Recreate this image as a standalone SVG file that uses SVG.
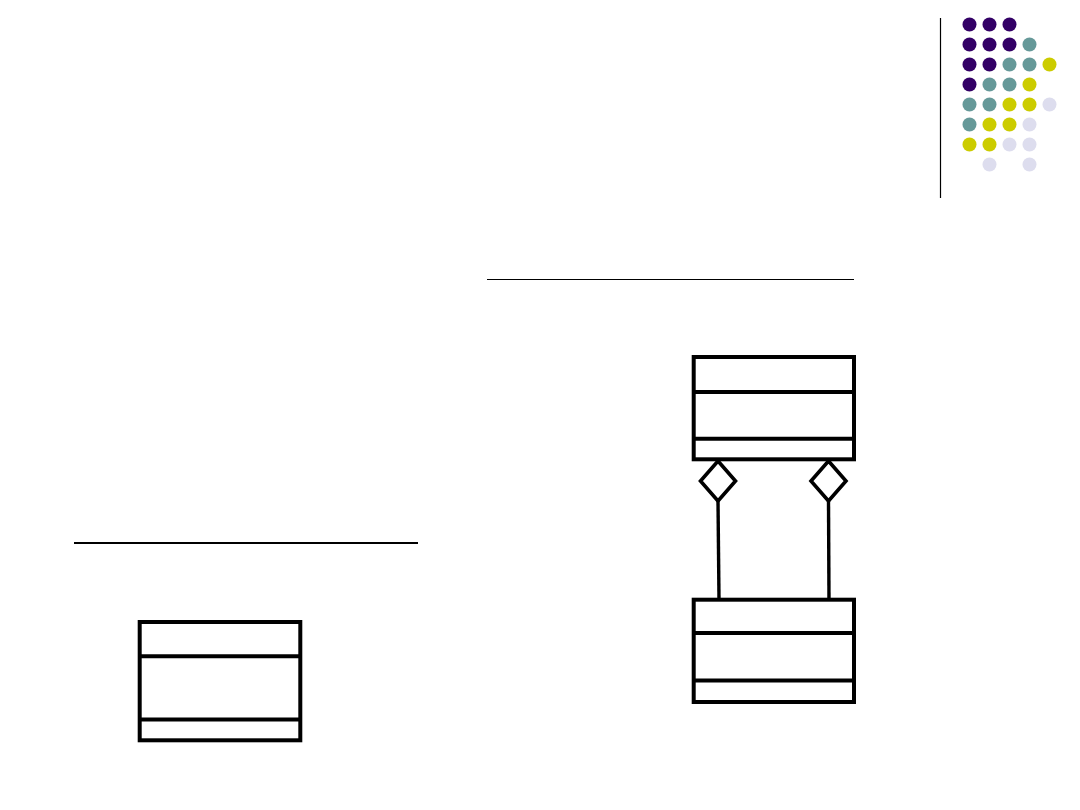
<svg xmlns="http://www.w3.org/2000/svg" width="1080" height="810" viewBox="0 0 1080 810">
<style>
.box{fill:#fff;stroke:#000;stroke-width:4}
.div{stroke:#000;stroke-width:4}
.conn{stroke:#000;stroke-width:3.4;fill:none}
.dia{fill:#fff;stroke:#000;stroke-width:3.6;stroke-linejoin:miter}
.p{fill:#330066}.t{fill:#669999}.y{fill:#CCCC00}.l{fill:#DDDDEE}
</style>
<rect width="1080" height="810" fill="#fff"/>
<g id="decoration">
<line x1="940.5" y1="18" x2="940.5" y2="198" stroke="#000" stroke-width="1.2"/>
<g id="dots">
<circle class="p" cx="969.5" cy="24.5" r="7"/><circle class="p" cx="989.5" cy="24.5" r="7"/><circle class="p" cx="1009.5" cy="24.5" r="7"/>
<circle class="p" cx="969.5" cy="44.5" r="7"/><circle class="p" cx="989.5" cy="44.5" r="7"/><circle class="p" cx="1009.5" cy="44.5" r="7"/><circle class="t" cx="1029.5" cy="44.5" r="7"/>
<circle class="p" cx="969.5" cy="64.5" r="7"/><circle class="p" cx="989.5" cy="64.5" r="7"/><circle class="t" cx="1009.5" cy="64.5" r="7"/><circle class="t" cx="1029.5" cy="64.5" r="7"/><circle class="y" cx="1049.5" cy="64.5" r="7"/>
<circle class="p" cx="969.5" cy="84.5" r="7"/><circle class="t" cx="989.5" cy="84.5" r="7"/><circle class="t" cx="1009.5" cy="84.5" r="7"/><circle class="y" cx="1029.5" cy="84.5" r="7"/>
<circle class="t" cx="969.5" cy="104.5" r="7"/><circle class="t" cx="989.5" cy="104.5" r="7"/><circle class="y" cx="1009.5" cy="104.5" r="7"/><circle class="y" cx="1029.5" cy="104.5" r="7"/><circle class="l" cx="1049.5" cy="104.5" r="7"/>
<circle class="t" cx="969.5" cy="124.5" r="7"/><circle class="y" cx="989.5" cy="124.5" r="7"/><circle class="y" cx="1009.5" cy="124.5" r="7"/><circle class="l" cx="1029.5" cy="124.5" r="7"/>
<circle class="y" cx="969.5" cy="144.5" r="7"/><circle class="y" cx="989.5" cy="144.5" r="7"/><circle class="l" cx="1009.5" cy="144.5" r="7"/><circle class="l" cx="1029.5" cy="144.5" r="7"/>
<circle class="l" cx="989.5" cy="164.5" r="7"/><circle class="l" cx="1029.5" cy="164.5" r="7"/>
</g>
<line x1="487" y1="279.5" x2="854" y2="279.5" stroke="#000" stroke-width="1.2"/>
<line x1="74" y1="543" x2="418" y2="543" stroke="#000" stroke-width="2"/>
</g>
<g id="connectors">
<line class="conn" x1="718" y1="501" x2="719" y2="599"/>
<line class="conn" x1="828.5" y1="501" x2="829" y2="599"/>
</g>
<g id="classSingle">
<rect class="box" x="139.7" y="622" width="160.6" height="118.3"/>
<line class="div" x1="139.7" y1="656.2" x2="300.3" y2="656.2"/>
<line class="div" x1="139.7" y1="719.5" x2="300.3" y2="719.5"/>
</g>
<g id="classWhole">
<rect class="box" x="693.7" y="357" width="160.3" height="102.3"/>
<line class="div" x1="693.7" y1="392" x2="854" y2="392"/>
<line class="div" x1="693.7" y1="438.7" x2="854" y2="438.7"/>
</g>
<g id="classPart">
<rect class="box" x="693.7" y="599.7" width="160.3" height="102.3"/>
<line class="div" x1="693.7" y1="633" x2="854" y2="633"/>
<line class="div" x1="693.7" y1="680.5" x2="854" y2="680.5"/>
</g>
<g id="diamonds">
<polygon class="dia" points="718,461 735.5,481 718,501 700.5,481"/>
<polygon class="dia" points="828.5,461 846,481 828.5,501 811,481"/>
</g>
</svg>
